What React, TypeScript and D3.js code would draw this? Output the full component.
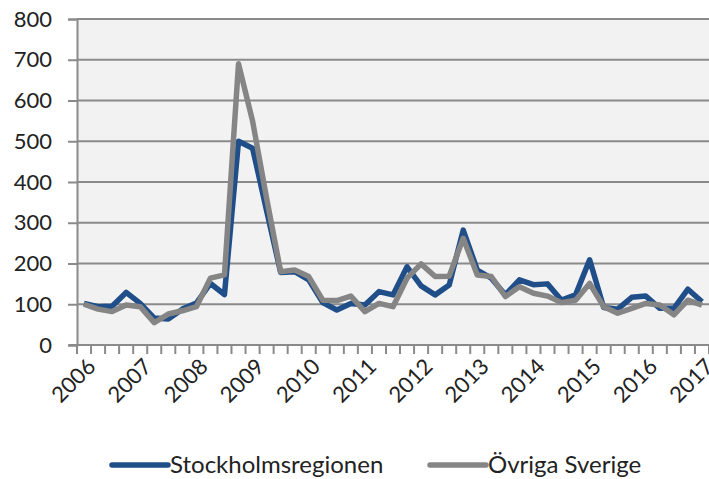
import React, { useEffect, useRef } from "react";
import * as d3 from "d3";

// quarterly values, 2006 Q1 .. 2017 Q1
const years = ["2006", "2007", "2008", "2009", "2010", "2011", "2012", "2013", "2014", "2015", "2016", "2017"];

const stockholm = [
  102, 94, 95, 129, 102, 66, 64, 88, 103, 151, 124, 500, 483, 330, 178, 180,
  160, 104, 86, 102, 98, 131, 123, 192, 145, 123, 147, 282, 184, 164, 123, 160,
  148, 150, 110, 123, 209, 92, 88, 117, 120, 90, 90, 137, 106,
];

const ovriga = [
  100, 88, 82, 98, 94, 55, 76, 84, 94, 164, 172, 690, 550, 360, 180, 184,
  168, 110, 109, 120, 82, 102, 94, 164, 199, 168, 169, 262, 172, 168, 119, 143,
  127, 120, 104, 110, 151, 94, 78, 90, 102, 98, 74, 110, 98,
];

const seriesNames = ["Stockholmsregionen", "Övriga Sverige"];
const seriesColors = ["#1f4e89", "#858585"];
const yTicks = [0, 100, 200, 300, 400, 500, 600, 700, 800];

const App = () => {
  const chartEl = useRef(null);

  useEffect(() => {
    const width = 709,
      height = 479;
    const plot = { left: 77, right: 709, top: 19, bottom: 345 };
    const font = "Lato, 'Liberation Sans', sans-serif";
    const gridColor = "#8a8a8a";

    const svg = d3.select(chartEl.current).attr("width", width).attr("height", height);
    svg.selectAll("*").remove();

    const quarters = d3.range(stockholm.length);

    const xScale = d3
      .scaleBand()
      .domain(quarters.map(String))
      .range([plot.left, plot.right]);

    const yScale = d3.scaleLinear().domain([0, 800]).range([plot.bottom, plot.top]);

    svg
      .append("rect")
      .attr("x", plot.left)
      .attr("y", plot.top)
      .attr("width", plot.right - plot.left)
      .attr("height", plot.bottom - plot.top)
      .attr("fill", "#f2f2f2");

    // y axis + gridlines
    const yAxis = svg
      .append("g")
      .attr("transform", "translate(" + plot.left + ",0)")
      .call(
        d3
          .axisLeft(yScale)
          .tickValues(yTicks)
          .tickSize(9)
          .tickPadding(16)
      );
    yAxis.select(".domain").attr("stroke", gridColor).attr("stroke-width", 2);
    yAxis.selectAll(".tick line").attr("stroke", gridColor).attr("stroke-width", 2);
    yAxis
      .selectAll(".tick text")
      .attr("fill", "#222")
      .style("font-family", font)
      .style("font-size", "22px");

    svg
      .append("g")
      .selectAll("line")
      .data(yTicks.filter((d) => d > 0))
      .enter()
      .append("line")
      .attr("x1", plot.left)
      .attr("x2", plot.right)
      .attr("y1", (d) => yScale(d))
      .attr("y2", (d) => yScale(d))
      .attr("stroke", gridColor)
      .attr("stroke-width", 2);

    // x axis: ticks between quarters, label every 4th quarter
    const xg = svg.append("g");
    xg.append("line")
      .attr("x1", plot.left - 8)
      .attr("x2", plot.right)
      .attr("y1", plot.bottom)
      .attr("y2", plot.bottom)
      .attr("stroke", gridColor)
      .attr("stroke-width", 2);

    xg.selectAll(".qtick")
      .data(d3.range(stockholm.length + 1))
      .enter()
      .append("line")
      .attr("class", "qtick")
      .attr("x1", (d) => plot.left + d * xScale.step())
      .attr("x2", (d) => plot.left + d * xScale.step())
      .attr("y1", plot.bottom)
      .attr("y2", plot.bottom + 9)
      .attr("stroke", gridColor)
      .attr("stroke-width", 2);

    xg.selectAll(".ylabel")
      .data(years)
      .enter()
      .append("text")
      .attr("class", "ylabel")
      .attr("transform", (d, i) => {
        const cx = xScale(String(i * 4)) + xScale.bandwidth() / 2 + 2;
        return "translate(" + cx + "," + (plot.bottom + 12) + ") rotate(-45)";
      })
      .attr("text-anchor", "end")
      .attr("dy", "0.7em")
      .attr("fill", "#222")
      .style("font-family", font)
      .style("font-size", "22px")
      .text((d) => d);

    const line = d3
      .line()
      .x((d, i) => xScale(String(i)) + xScale.bandwidth() / 2)
      .y((d) => yScale(d));

    [stockholm, ovriga].forEach((data, k) => {
      svg
        .append("path")
        .datum(data)
        .attr("fill", "none")
        .attr("stroke", seriesColors[k])
        .attr("stroke-width", 5.5)
        .attr("stroke-linejoin", "round")
        .attr("d", line);
    });

    // legend
    const legendX = [112, 430];
    const legend = svg
      .append("g")
      .selectAll("g")
      .data(seriesNames)
      .enter()
      .append("g")
      .attr("transform", (d, i) => "translate(" + legendX[i] + ",465)");

    legend
      .append("line")
      .attr("x1", 0)
      .attr("x2", 56)
      .attr("stroke", (d, i) => seriesColors[i])
      .attr("stroke-width", 5.5)
      .attr("stroke-linecap", "round");

    legend
      .append("text")
      .attr("x", 58)
      .attr("dy", "0.35em")
      .attr("fill", "#222")
      .style("font-family", font)
      .style("font-size", "24px")
      .text((d) => d);
  }, [chartEl]);

  return (
    <svg
      ref={chartEl}
      style={{ position: "absolute", left: 0, top: 0, display: "block", background: "#fff" }}
    ></svg>
  );
};

export default App;
